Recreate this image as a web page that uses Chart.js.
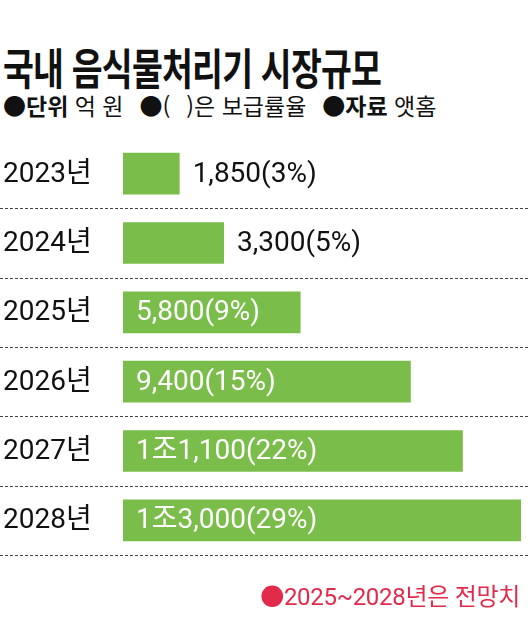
<!DOCTYPE html>
<html lang="ko">
<head>
<meta charset="utf-8">
<script src="https://cdn.jsdelivr.net/npm/chart.js@4.4.1/dist/chart.umd.min.js"></script>
<style>
  html, body { margin: 0; padding: 0; background: #fff; }
  body { width: 530px; height: 630px; position: relative; overflow: hidden;
         font-family: Roboto, "Noto Sans CJK KR", sans-serif; color: #111; }
  #chart { position: absolute; left: 0; top: 0; }
  .title { position: absolute; left: 3px; top: 45px; font-size: 43px; line-height: 43px;
           font-family: "Noto Sans CJK KR", sans-serif;
           font-weight: 700; letter-spacing: -1px; white-space: nowrap;
           transform: scaleX(0.78); transform-origin: left top; }
  .sub { position: absolute; left: 3px; top: 94px; font-size: 23px; line-height: 23px;
         font-family: "Noto Sans CJK KR", sans-serif;
         white-space: nowrap; letter-spacing: 0; }
  .sub b { font-weight: 700; }
  .gap { display: inline-block; width: 16px; }
  .paren { display: inline-block; width: 16px; }
  .note { position: absolute; right: 10px; top: 585px; font-size: 24px; line-height: 24px;
          color: #e22a4b; white-space: nowrap; letter-spacing: -0.3px; }
</style>
</head>
<body>
<div class="title">국내 음식물처리기 시장규모</div>
<div class="sub"><b>●단위</b> 억 원<span class="gap"></span>●(<span class="paren"></span>)은 보급률율<span class="gap"></span><b>●자료</b> 앳홈</div>
<canvas id="chart" width="530" height="630"></canvas>
<div class="note">●2025~2028년은 전망치</div>
<script>
// 연도, 시장규모(억 원), 보급률(%)
const years = ["2023년", "2024년", "2025년", "2026년", "2027년", "2028년"];
const marketSize = [1850, 3300, 5800, 9400, 11100, 13000];
const penetration = [3, 5, 9, 15, 22, 29];
const axisMax = 13000;

const GREEN = "#7bbd4a";
const LABEL_FONT = '28px Roboto, "Noto Sans CJK KR", sans-serif';

// 1조 = 10,000억
function fmtWon(v) {
  const jo = Math.floor(v / 10000);
  const rest = (v % 10000).toLocaleString("en-US");
  return jo > 0 ? jo + "조" + rest : rest;
}

const rowDecor = {
  id: "rowDecor",
  afterDatasetsDraw(chart) {
    const { ctx } = chart;
    const xs = chart.scales.x, ys = chart.scales.y;
    const meta = chart.getDatasetMeta(0);
    ctx.save();

    // dashed separators under each row
    ctx.strokeStyle = "#444";
    ctx.lineWidth = 1;
    ctx.setLineDash([3, 2]);
    years.forEach((_, i) => {
      const y = Math.round(ys.getPixelForValue(i + 0.5)) + 0.5;
      ctx.beginPath();
      ctx.moveTo(0, y);
      ctx.lineTo(chart.width, y);
      ctx.stroke();
    });
    ctx.setLineDash([]);

    ctx.font = LABEL_FONT;
    ctx.textBaseline = "middle";
    ctx.textAlign = "left";
    years.forEach((yr, i) => {
      const y = ys.getPixelForValue(i) + 1;
      ctx.fillStyle = "#111";
      ctx.fillText(yr, 3, y);

      const txt = fmtWon(marketSize[i]) + "(" + penetration[i] + "%)";
      const bar = meta.data[i];
      const x0 = xs.getPixelForValue(0);
      const w = bar.x - x0;
      const tw = ctx.measureText(txt).width;
      if (tw + 26 <= w) {
        ctx.fillStyle = "#fff";
        ctx.fillText(txt, x0 + 13, y);
      } else {
        ctx.fillStyle = "#111";
        ctx.fillText(txt, bar.x + 13, y);
      }
    });
    ctx.restore();
  }
};

new Chart(document.getElementById("chart"), {
  type: "bar",
  data: {
    labels: years,
    datasets: [{
      data: marketSize,
      backgroundColor: GREEN,
      borderWidth: 0,
      barPercentage: 0.6,
      categoryPercentage: 1.0
    }]
  },
  options: {
    indexAxis: "y",
    responsive: false,
    animation: false,
    layout: { padding: { left: 123, right: 9, top: 139, bottom: 75 } },
    plugins: { legend: { display: false }, tooltip: { enabled: false } },
    scales: {
      x: { display: false, min: 0, max: axisMax },
      y: { display: false }
    }
  },
  plugins: [rowDecor]
});
</script>
</body>
</html>
